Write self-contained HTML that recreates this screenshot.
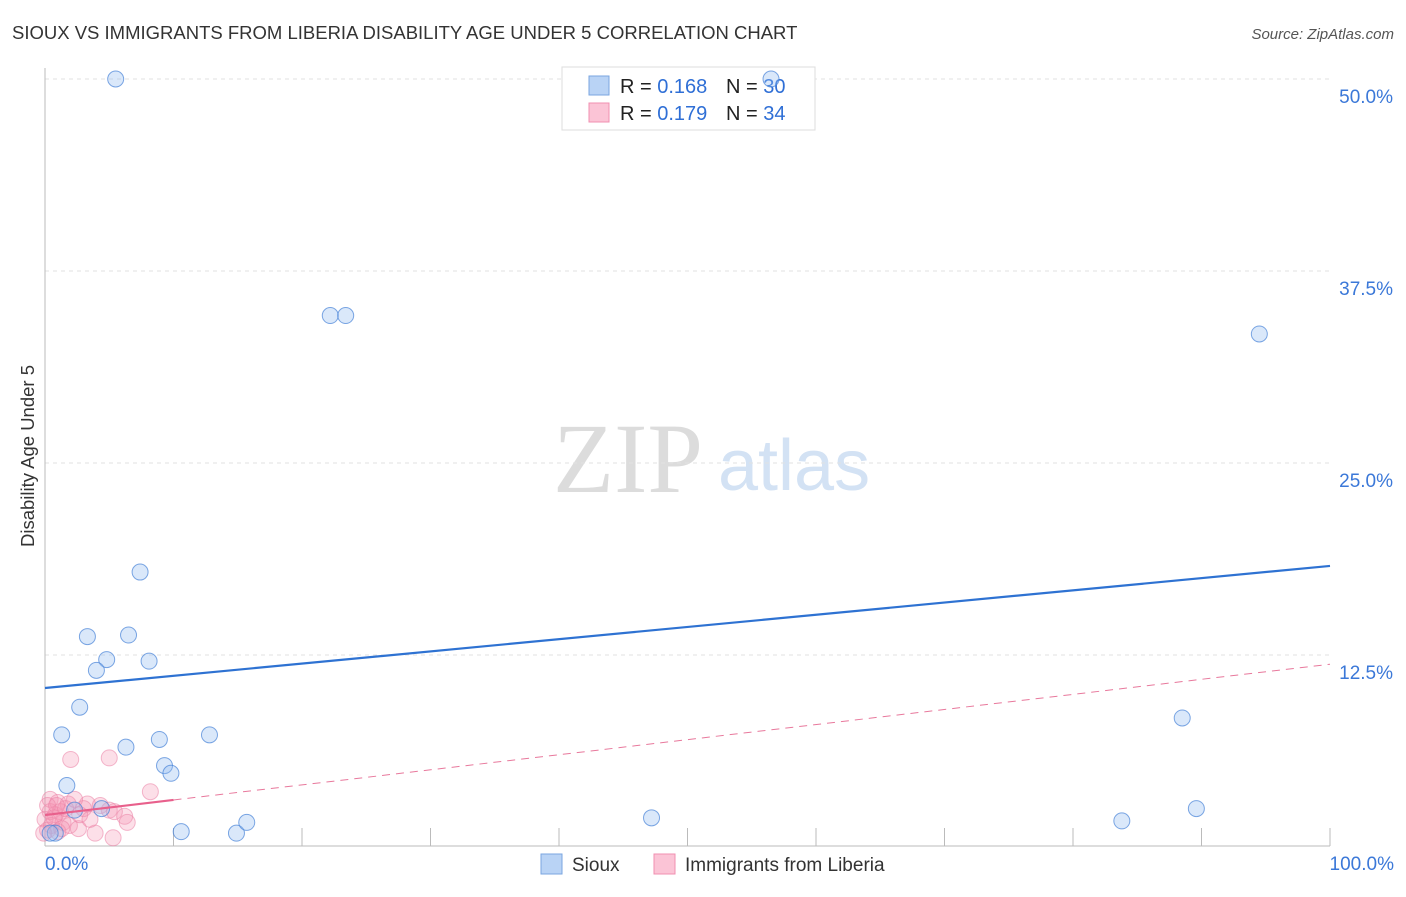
<!DOCTYPE html>
<html><head><meta charset="utf-8"><style>
body{margin:0;background:#fff;font-family:"Liberation Sans",sans-serif;}
</style></head><body>
<svg id="c" width="1406" height="892" font-family="Liberation Sans, sans-serif">
<text x="12" y="39" font-size="18.5" fill="#333">SIOUX VS IMMIGRANTS FROM LIBERIA DISABILITY AGE UNDER 5 CORRELATION CHART</text>
<text x="1394" y="39" font-size="15" fill="#555" font-style="italic" text-anchor="end">Source: ZipAtlas.com</text>
<text x="34" y="456" font-size="18.5" fill="#333" text-anchor="middle" transform="rotate(-90 34 456)">Disability Age Under 5</text>
<text x="553" y="492" font-size="100" fill="#dcdcdc" style="font-family:'Liberation Serif',serif">ZIP</text>
<text x="718" y="490" font-size="72" fill="#d3e2f4">atlas</text>
<g id="grid"></g>
<g>
<rect x="562" y="67" width="253" height="63" fill="#fff" stroke="#ddd"/>
<rect x="589" y="76" width="20" height="19" fill="#b9d3f5" stroke="#7aa6e0"/>
<rect x="589" y="103" width="20" height="19" fill="#fbc4d6" stroke="#f08fb0"/>
<text x="620" y="93" font-size="20" fill="#222">R = <tspan fill="#2f6fd6">0.168</tspan></text>
<text x="726" y="93" font-size="20" fill="#222">N = <tspan fill="#2f6fd6">30</tspan></text>
<text x="620" y="120" font-size="20" fill="#222">R = <tspan fill="#2f6fd6">0.179</tspan></text>
<text x="726" y="120" font-size="20" fill="#222">N = <tspan fill="#2f6fd6">34</tspan></text>
</g>
<g id="marks"></g>
<g>
<rect x="541" y="854" width="21" height="20" fill="#b9d3f5" stroke="#7aa6e0"/>
<text x="572" y="871" font-size="19" fill="#333">Sioux</text>
<rect x="654" y="854" width="21" height="20" fill="#fbc4d6" stroke="#f08fb0"/>
<text x="685" y="871" font-size="19" fill="#333">Immigrants from Liberia</text>
</g>
</svg>
<script>
const yTicks=[12.5,25,37.5,50];
const yTickLabels=["12.5%","25.0%","37.5%","50.0%"];
const xEndLabels=["0.0%","100.0%"];
const siouxX=[5.5,56.5,22.2,23.4,94.5,7.4,3.3,6.5,4.8,4,8.1,2.7,1.3,6.3,8.9,12.8,9.3,9.8,1.7,88.5,4.4,2.3,10.6,14.9,15.7,47.2,83.8,89.6,0.8,0.4];
const siouxY=[50,50,34.6,34.6,33.4,17.9,13.7,13.8,12.2,11.5,12.1,9.1,7.3,6.5,7,7.3,5.3,4.8,4,8.4,2.5,2.4,1,0.9,1.6,1.9,1.7,2.5,0.9,0.9];
const libX=[2,5,8.2,0.4,1,1.8,3.3,3,5,5.4,6.2,6.4,0.4,0.8,1.2,0,0.5,1.4,1.9,2.6,0.2,1,3.9,5.3,1.6,0.2,2.3,4.3,0.7,1.3,-0.1,2.7,3.5,0.9];
const libY=[5.7,5.8,3.6,3.1,2.9,2.8,2.8,2.5,2.4,2.3,2,1.6,2.3,2.1,2.3,1.8,1.4,1.6,1.4,1.2,1.1,1,0.9,0.6,2.5,2.7,3.1,2.7,1.9,1.2,0.9,2.1,1.8,2.7];
const siouxLine=[10.35,18.3];
const libLine=[2.08,11.9];
const libSolidEnd=10;
const X=v=>45+v*12.85, Y=v=>847-v*15.36;
const NS="http://www.w3.org/2000/svg";
function mk(t,a,p){const e=document.createElementNS(NS,t);for(const k in a)e.setAttribute(k,a[k]);p.appendChild(e);return e;}
const g=document.getElementById('grid'),m=document.getElementById('marks');
yTicks.forEach((t,i)=>{
 const l=mk('line',{x1:45,x2:1330,y1:Y(t),y2:Y(t),stroke:'#e2e2e2','stroke-dasharray':'4,4'},g);
 
 
 const tx=mk('text',{x:1393,y:Y(t)+24,'font-size':19,fill:'#3b78d8','text-anchor':'end'},g);
 tx.textContent=yTickLabels[i];
 
 
});
const ax=mk('line',{x1:45,x2:45,y1:68,y2:846,stroke:'#bbb'},g);


const bx=mk('line',{x1:45,x2:1330,y1:846,y2:846,stroke:'#bbb'},g);


for(let i=1;i<=10;i++){
 const t=mk('line',{x1:X(i*10),x2:X(i*10),y1:828,y2:846,stroke:'#bbb'},g);
 
 
}
[[0,'start',45],[100,'end',1394]].forEach((d,i)=>{
 const t=mk('text',{x:d[2],y:870,'font-size':19,fill:'#3b78d8','text-anchor':d[1]},g);
 t.textContent=xEndLabels[i];
 
 
});
libX.forEach((x,i)=>{
 const c=mk('circle',{cx:X(x),cy:Y(libY[i]),r:8,fill:'rgba(245,150,180,0.3)',stroke:'rgba(235,130,165,0.55)','stroke-width':1},m);
 
 
});
siouxX.forEach((x,i)=>{
 const c=mk('circle',{cx:X(x),cy:Y(siouxY[i]),r:8,fill:'rgba(150,190,240,0.35)',stroke:'rgba(70,130,215,0.7)','stroke-width':1},m);
 
 
});
const sl=mk('line',{x1:X(0),x2:X(100),y1:Y(siouxLine[0]),y2:Y(siouxLine[1]),stroke:'#2e72d2','stroke-width':2.2},m);


const ly=v=>libLine[0]+(libLine[1]-libLine[0])*v/100;
const l1=mk('line',{x1:X(0),x2:X(libSolidEnd),y1:Y(ly(0)),y2:Y(ly(libSolidEnd)),stroke:'#e8608c','stroke-width':2.2},m);


const l2=mk('line',{x1:X(libSolidEnd),x2:X(100),y1:Y(ly(libSolidEnd)),y2:Y(ly(100)),stroke:'#e8789c','stroke-width':1,'stroke-dasharray':'8,6'},m);


</script>
</body></html>
